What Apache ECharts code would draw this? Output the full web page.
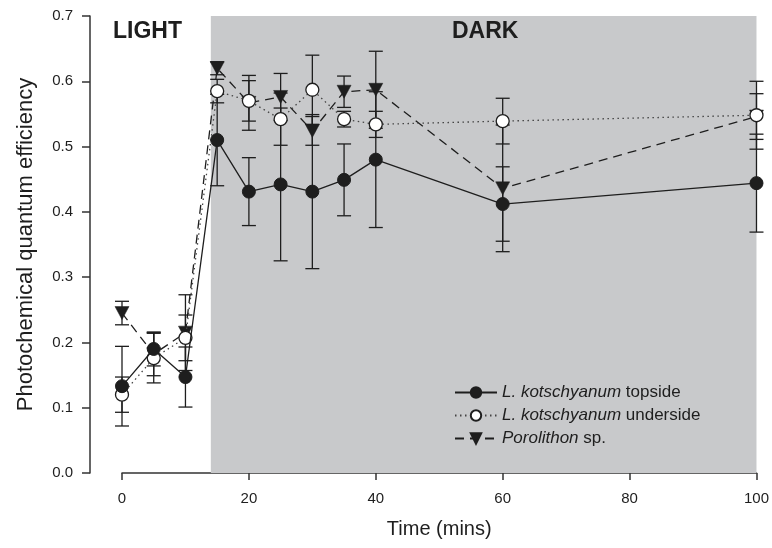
<!DOCTYPE html>
<html>
<head>
<meta charset="utf-8">
<script src="https://cdn.jsdelivr.net/npm/echarts@6/dist/echarts.min.js"></script>
<style>html,body{margin:0;padding:0;background:#fff;}#chart{width:772px;height:548px;}</style>
</head>
<body>
<div id="chart"></div>
<script>
// ---- data ----
var times = [0, 5, 10, 15, 20, 25, 30, 35, 40, 60, 100];
var topside = [0.133, 0.190, 0.147, 0.510, 0.431, 0.442, 0.431, 0.449, 0.480, 0.412, 0.444];
var topsideErr = [0.061, 0.026, 0.046, 0.070, 0.052, 0.117, 0.118, 0.055, 0.104, 0.057, 0.075];
var underside = [0.120, 0.176, 0.207, 0.585, 0.570, 0.542, 0.587, 0.542, 0.534, 0.539, 0.548];
var undersideErr = [0.027, 0.038, 0.035, 0.018, 0.031, 0.040, 0.053, 0.012, 0.020, 0.035, 0.052];
var porolithon = [0.245, 0.182, 0.215, 0.620, 0.567, 0.576, 0.524, 0.584, 0.587, 0.436, 0.546];
var porolithonErr = [0.018, 0.033, 0.058, 0.010, 0.042, 0.036, 0.022, 0.024, 0.059, 0.097, 0.035];
var darkStart = 14, darkEnd = 100;
var seriesNames = ['L. kotschyanum topside', 'L. kotschyanum underside', 'Porolithon sp.'];
var xTicks = [0, 20, 40, 60, 80, 100];
var yTicks = [0.0, 0.1, 0.2, 0.3, 0.4, 0.5, 0.6, 0.7];

var FONT = "'Liberation Sans', Arial, sans-serif";
var INK = '#1e1e1e';

function pairs(xs, ys) { return xs.map(function (x, i) { return [x, ys[i]]; }); }
function errData(xs, ys, es) { return xs.map(function (x, i) { return [x, ys[i] - es[i], ys[i] + es[i]]; }); }

function errRender(params, api) {
  var x = api.value(0);
  var lo = api.coord([x, api.value(1)]);
  var hi = api.coord([x, api.value(2)]);
  var w = 7;
  var st = { stroke: INK, lineWidth: 1.3 };
  return {
    type: 'group',
    children: [
      { type: 'line', shape: { x1: lo[0], y1: lo[1], x2: hi[0], y2: hi[1] }, style: st },
      { type: 'line', shape: { x1: lo[0] - w, y1: lo[1], x2: lo[0] + w, y2: lo[1] }, style: st },
      { type: 'line', shape: { x1: hi[0] - w, y1: hi[1], x2: hi[0] + w, y2: hi[1] }, style: st }
    ]
  };
}

var downTri = 'path://M0,0 L12,0 L6,11 Z';

var chart = echarts.init(document.getElementById('chart'), null, { renderer: 'canvas' });
chart.setOption({
  animation: false,
  backgroundColor: '#fff',
  grid: { left: 122, right: 15, top: 16, bottom: 75, containLabel: false },
  xAxis: {
    type: 'value', min: xTicks[0], max: xTicks[xTicks.length - 1], interval: 20,
    name: 'Time (mins)', nameLocation: 'middle', nameGap: 46,
    nameTextStyle: { fontFamily: FONT, fontSize: 20, color: INK },
    axisLine: { show: true, onZero: false, lineStyle: { color: '#333', width: 1.5 } },
    axisTick: { show: true, length: 7, lineStyle: { color: '#333', width: 1.5 } },
    axisLabel: { fontFamily: FONT, fontSize: 15, color: INK, margin: 18 },
    splitLine: { show: false }
  },
  yAxis: {
    type: 'value', min: yTicks[0], max: yTicks[yTicks.length - 1], interval: 0.1,
    offset: 32,
    name: 'Photochemical quantum efficiency', nameLocation: 'middle', nameGap: 53,
    nameTextStyle: { fontFamily: FONT, fontSize: 22, color: INK },
    axisLine: { show: true, onZero: false, lineStyle: { color: '#333', width: 1.5 } },
    axisTick: { show: true, length: 8, lineStyle: { color: '#333', width: 1.5 } },
    axisLabel: { fontFamily: FONT, fontSize: 15, color: INK, margin: 17,
      formatter: function (v) { return v.toFixed(1); } },
    splitLine: { show: false }
  },
  legend: {
    orient: 'vertical', left: 449, top: 379,
    itemWidth: 42, itemHeight: 13, itemGap: 6,
    data: seriesNames,
    textStyle: { fontFamily: FONT, fontSize: 17, color: INK,
      rich: { i: { fontFamily: FONT, fontSize: 17, fontStyle: 'italic', color: INK } } },
    formatter: function (name) {
      if (name.indexOf('L. kotschyanum') === 0) return '{i|L. kotschyanum}' + name.slice(14);
      if (name.indexOf('Porolithon') === 0) return '{i|Porolithon}' + name.slice(10);
      return name;
    }
  },
  graphic: [
    { type: 'text', left: 113, top: 20, z: 100, style: { text: 'LIGHT', fontFamily: FONT, fontSize: 23, fontWeight: 'bold', fill: INK } },
    { type: 'text', left: 452, top: 20, z: 100, style: { text: 'DARK', fontFamily: FONT, fontSize: 23, fontWeight: 'bold', fill: INK } }
  ],
  series: [
    {
      type: 'line', name: '__bg', data: [], silent: true,
      markArea: { silent: true, itemStyle: { color: '#c8c9cb' },
        data: [[{ xAxis: darkStart, yAxis: yTicks[0] }, { xAxis: darkEnd, yAxis: yTicks[yTicks.length - 1] }]] },
      z: 0
    },
    { type: 'custom', name: 'errTop', renderItem: errRender, data: errData(times, topside, topsideErr), clip: false, z: 2, silent: true },
    { type: 'custom', name: 'errUnder', renderItem: errRender, data: errData(times, underside, undersideErr), clip: false, z: 2, silent: true },
    { type: 'custom', name: 'errPoro', renderItem: errRender, data: errData(times, porolithon, porolithonErr), clip: false, z: 2, silent: true },
    {
      type: 'line', name: seriesNames[0], data: pairs(times, topside), clip: false, z: 5,
      symbol: 'circle', symbolSize: 13,
      lineStyle: { color: INK, width: 1.3, type: 'solid' },
      itemStyle: { color: INK, borderColor: INK, borderWidth: 1 }
    },
    {
      type: 'line', name: seriesNames[1], data: pairs(times, underside), clip: false, z: 4,
      symbol: 'circle', symbolSize: 13,
      lineStyle: { color: '#444', width: 1.3, type: [1.5, 3.5] },
      itemStyle: { color: '#ffffff', borderColor: INK, borderWidth: 1.3 }
    },
    {
      type: 'line', name: seriesNames[2], data: pairs(times, porolithon), clip: false, z: 3,
      symbol: downTri, symbolSize: [14, 13],
      lineStyle: { color: INK, width: 1.3, type: [9, 6] },
      itemStyle: { color: INK, borderColor: INK, borderWidth: 0.5 }
    }
  ]
});
</script>
</body>
</html>
